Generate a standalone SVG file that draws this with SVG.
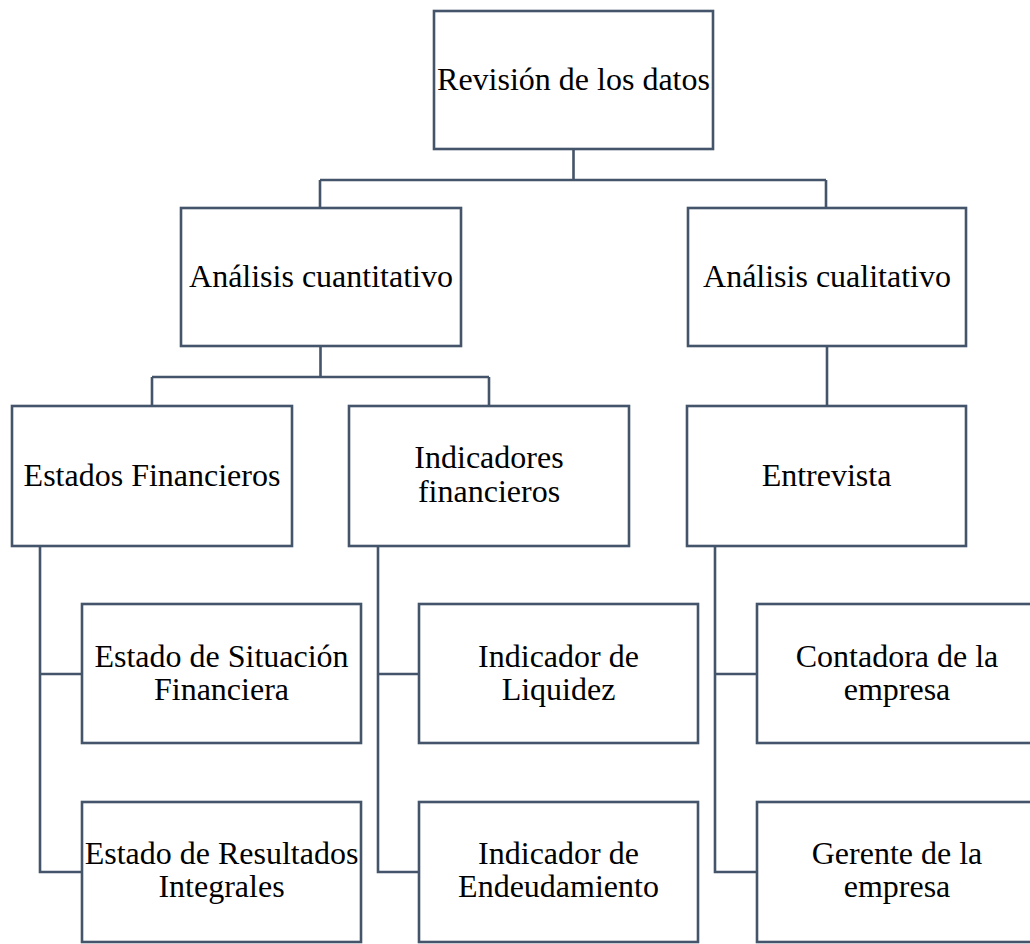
<svg xmlns="http://www.w3.org/2000/svg" width="1030" height="944" viewBox="0 0 1030 944">
<style>
.box{fill:#fff;stroke:#44546A;stroke-width:2.6}
.con{fill:none;stroke:#44546A;stroke-width:2.6}
text{font-family:"Liberation Serif","Times New Roman",serif;font-size:32px;fill:#000;text-anchor:middle}
</style>
<rect width="1030" height="944" fill="#fff"/>
<g id="connectors">
<path class="con" d="M573.5,149 V180 M320,180 H826 M320,180 V208 M826,180 V208"/>
<path class="con" d="M320.5,346 V377 M152,377 H489 M152,377 V406 M489,377 V406"/>
<path class="con" d="M827,346 V406"/>
<path class="con" d="M40,546 V872 H82 M40,674 H82"/>
<path class="con" d="M378,546 V872 H419 M378,674 H419"/>
<path class="con" d="M715,546 V872 H757 M715,674 H757"/>
</g>
<g id="n-revision"><rect class="box" x="434" y="11" width="279" height="138"/><text x="573.5" y="90">Revisión de los datos</text></g>
<g id="n-cuantitativo"><rect class="box" x="181" y="208" width="280" height="138"/><text x="321" y="287">Análisis cuantitativo</text></g>
<g id="n-cualitativo"><rect class="box" x="688" y="208" width="278" height="138"/><text x="827" y="287">Análisis cualitativo</text></g>
<g id="n-estados"><rect class="box" x="12" y="406" width="280" height="140"/><text x="152" y="486">Estados Financieros</text></g>
<g id="n-indicadores"><rect class="box" x="349" y="406" width="280" height="140"/><text x="489" y="468">Indicadores</text><text x="489" y="502">financieros</text></g>
<g id="n-entrevista"><rect class="box" x="687" y="406" width="279" height="140"/><text x="826.5" y="486">Entrevista</text></g>
<g id="n-situacion"><rect class="box" x="82" y="604" width="279" height="139"/><text x="221.5" y="667">Estado de Situación</text><text x="221.5" y="700">Financiera</text></g>
<g id="n-resultados"><rect class="box" x="82" y="802" width="279" height="140"/><text x="221.5" y="864">Estado de Resultados</text><text x="221.5" y="897">Integrales</text></g>
<g id="n-liquidez"><rect class="box" x="419" y="604" width="279" height="139"/><text x="558.5" y="667">Indicador de</text><text x="558.5" y="700">Liquidez</text></g>
<g id="n-endeudamiento"><rect class="box" x="419" y="802" width="279" height="140"/><text x="558.5" y="864">Indicador de</text><text x="558.5" y="897">Endeudamiento</text></g>
<g id="n-contadora"><rect class="box" x="757" y="604" width="280" height="139"/><text x="897" y="667">Contadora de la</text><text x="897" y="700">empresa</text></g>
<g id="n-gerente"><rect class="box" x="757" y="802" width="280" height="140"/><text x="897" y="864">Gerente de la</text><text x="897" y="897">empresa</text></g>
</svg>
